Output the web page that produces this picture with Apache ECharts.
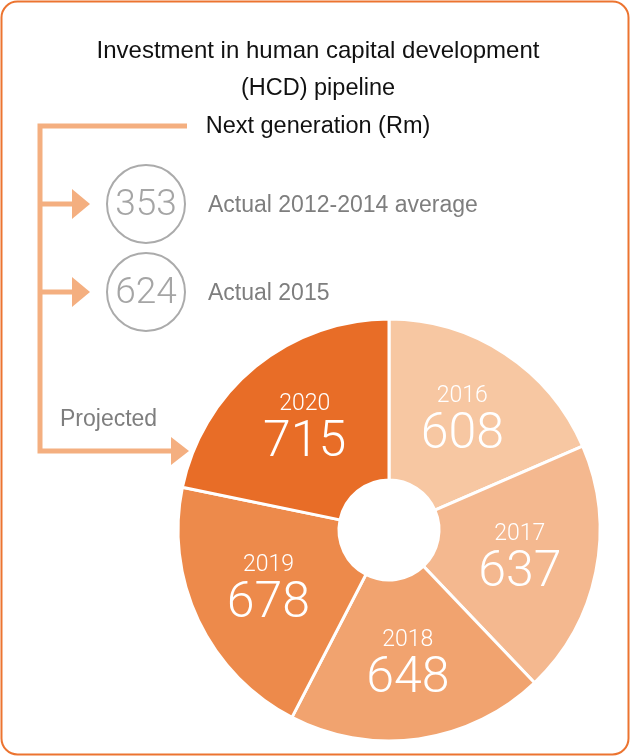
<!DOCTYPE html>
<html>
<head>
<meta charset="utf-8">
<script src="https://cdn.jsdelivr.net/npm/echarts@6/dist/echarts.min.js"></script>
<style>
html,body{margin:0;padding:0;background:#fff;}
#chart{width:630px;height:756px;}
</style>
</head>
<body>
<div id="chart"></div>
<script>
var titleLines = ['Investment in human capital development', '(HCD) pipeline', 'Next generation (Rm)'];
var years = ['2016', '2017', '2018', '2019', '2020'];
var projected = [608, 637, 648, 678, 715];
var sliceColors = ['#F7C7A2', '#F4B88F', '#F1A36F', '#ED8A4B', '#E86D27'];
var actualValues = [353, 624];
var actualLabels = ['Actual 2012-2014 average', 'Actual 2015'];
var projectedLabel = 'Projected';

var FONT = '"Liberation Sans", Arial, sans-serif';
var LIGHT = 'Roboto, "Liberation Sans", sans-serif';
var connColor = '#F4AF80';
var chart = echarts.init(document.getElementById('chart'));

var graphics = [];
// frame
graphics.push({type:'rect', shape:{x:1.5, y:1.5, width:627, height:753, r:16},
  style:{fill:null, stroke:'#EC7430', lineWidth:2}, z:1});
// title
var titleY = [51, 89, 127];
titleLines.forEach(function(t, i){
  graphics.push({type:'text', x:318, y:titleY[i], style:{text:t, fill:'#111', font:'400 ' + (i === 0 ? 24 : 23.5) + 'px ' + FONT, align:'center', verticalAlign:'middle'}});
});
// connector
graphics.push({type:'polyline', shape:{points:[[187,126],[40,126],[40,451],[174,451]]}, style:{stroke:connColor, lineWidth:5, fill:null}});
var rowY = [204, 292];
rowY.forEach(function(y, i){
  graphics.push({type:'line', shape:{x1:40, y1:y, x2:76, y2:y}, style:{stroke:connColor, lineWidth:5}});
  graphics.push({type:'polygon', shape:{points:[[72,y-15],[90,y],[72,y+15]]}, style:{fill:connColor}});
  graphics.push({type:'circle', shape:{cx:146, cy:y, r:39}, style:{fill:null, stroke:'#ABABAB', lineWidth:2}});
  graphics.push({type:'text', x:146, y:y+2, style:{text:String(actualValues[i]), fill:'#A5A5A5', font:'300 37px ' + LIGHT, align:'center', verticalAlign:'middle'}});
  graphics.push({type:'text', x:208, y:y+2, style:{text:actualLabels[i], fill:'#7E7E7E', font:'400 23px ' + FONT, align:'left', verticalAlign:'middle'}});
});
graphics.push({type:'polygon', shape:{points:[[171,437],[189,451],[171,465]]}, style:{fill:connColor}});
graphics.push({type:'text', x:60, y:420, style:{text:projectedLabel, fill:'#7E7E7E', font:'400 23px ' + FONT, align:'left', verticalAlign:'middle'}});

chart.setOption({
  animation:false,
  graphic: graphics,
  series:[{
    type:'pie',
    center:[389, 530],
    radius:[50, 211],
    startAngle:90,
    clockwise:true,
    avoidLabelOverlap:false,
    itemStyle:{borderColor:'#fff', borderWidth:3},
    label:{
      show:true, position:'inside',
      padding:[10, 0, 0, 0],
      formatter:'{y|{b}}\n{v|{c}}',
      rich:{
        y:{fontFamily:LIGHT, fontWeight:300, fontSize:23, color:'#fff', lineHeight:24, align:'center'},
        v:{fontFamily:LIGHT, fontWeight:300, fontSize:50, color:'#fff', lineHeight:54, align:'center'}
      }
    },
    labelLine:{show:false},
    emphasis:{disabled:true},
    data: years.map(function(y, i){ return {name:y, value:projected[i], itemStyle:{color:sliceColors[i]}}; })
  }]
});
</script>
</body>
</html>
